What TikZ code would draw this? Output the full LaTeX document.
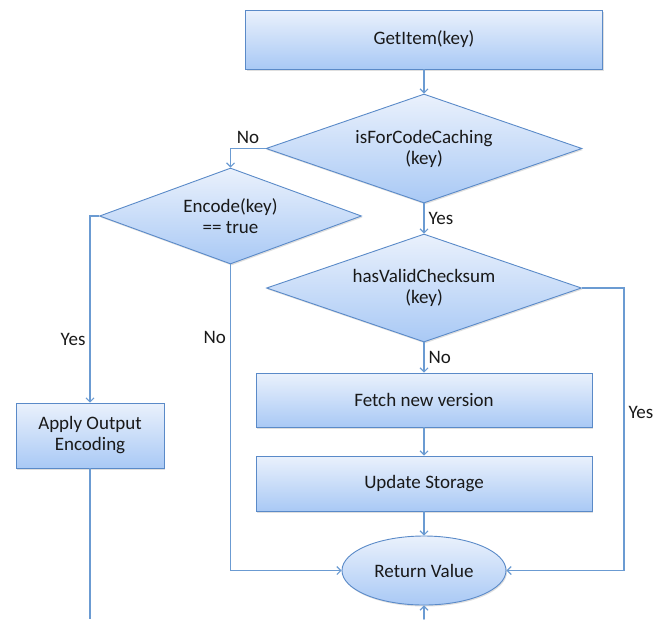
\documentclass[tikz,border=0pt]{standalone}
\usepackage{fontspec}
\setmainfont{Carlito}
\usetikzlibrary{shapes.geometric,arrows.meta,shadows}
\definecolor{boxtop}{HTML}{EAF1FC}
\definecolor{boxbot}{HTML}{A9C9F5}
\definecolor{boxline}{HTML}{5A8AC8}
\definecolor{flow}{HTML}{6B9BD2}

\begin{document}
\begin{tikzpicture}[x=1pt, y=-1pt,
  every node/.style={font=\fontsize{19}{21}\selectfont, text=black!90},
  base/.style={draw=boxline, line width=0.9pt, top color=boxtop,
    bottom color=boxbot, inner sep=0pt, align=center,
    drop shadow={shadow xshift=1pt, shadow yshift=-1.5pt, opacity=0.25}},
  process/.style={base, rectangle},
  decision/.style={base, diamond},
  terminal/.style={base, ellipse},
  flowline/.style={draw=flow, line width=1.1pt},
  arrow/.style={-{Straight Barb[length=4pt, width=8pt]}},
  lab/.style={inner sep=4pt}]
  \useasboundingbox (0,0) rectangle (668,619);

  \node[process, minimum width=357pt, minimum height=59pt] (get) at (424,39.5) {GetItem(key)};
  \node[decision, aspect=2.9, minimum width=316pt, minimum height=109pt] (code) at (424,148.5) {isForCodeCaching\\(key)};
  \node[decision, aspect=2.73, minimum width=262pt, minimum height=96pt] (enc) at (230.5,216) {Encode(key)\\== true};
  \node[decision, aspect=2.92, minimum width=315pt, minimum height=108pt] (check) at (424,288) {hasValidChecksum\\(key)};
  \node[process, minimum width=336pt, minimum height=54pt] (fetch) at (424,400) {Fetch new version};
  \node[process, minimum width=336pt, minimum height=55pt] (store) at (424,483.5) {Update Storage};
  \node[process, minimum width=148pt, minimum height=65pt] (apply) at (90,435.5) {Apply Output\\Encoding};
  \node[terminal, minimum width=164pt, minimum height=69pt] (ret) at (424,570.5) {Return Value};
  \coordinate (outA) at (90,619);
  \coordinate (inR) at (424,619);

  \path[flowline, arrow]
    (get) edge (code)
    (code) edge node[lab, right] {Yes} (check)
    (check) edge node[lab, right] {No} (fetch)
    (fetch) edge (store)
    (store) edge (ret)
    (inR) edge (ret);
  \draw[flowline, arrow] (code.west) -| node[lab, above, pos=0.25] {No} (enc.north);
  \draw[flowline, arrow] (enc.west) -| node[lab, left, pos=0.83] {Yes} (apply.north);
  \draw[flowline, arrow] (enc.south) |- node[lab, left, pos=0.12] {No} (ret.west);
  \draw[flowline, arrow] (check.east) -- ++(42,0) |- node[lab, right, pos=0.22] {Yes} (ret.east);
  \draw[flowline] (apply.south) -- (outA);
\end{tikzpicture}
\end{document}
